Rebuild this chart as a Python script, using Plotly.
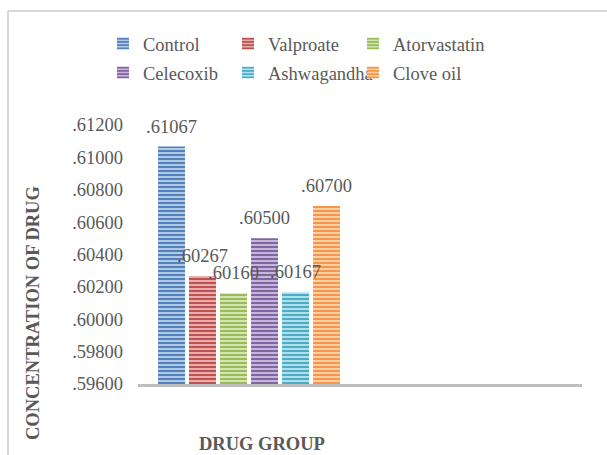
import plotly.graph_objects as go

# Drug groups and measured concentrations
drugs = ["Control", "Valproate", "Atorvastatin", "Celecoxib", "Ashwagandha", "Clove oil"]
concentrations = [0.61067, 0.60267, 0.60160, 0.60500, 0.60167, 0.60700]

# Y axis ticks
y_ticks = [0.596, 0.598, 0.600, 0.602, 0.604, 0.606, 0.608, 0.610, 0.612]

base_colors = ["#4f81bd", "#c0504d", "#9bbb59", "#8064a2", "#4bacc6", "#f79646"]
light_colors = ["#b3c8e4", "#e3aeac", "#d2e3b4", "#c5b7d9", "#b2dfea", "#fbcfa8"]

FONT = "Liberation Serif, Times New Roman, serif"
GREY = "#595959"
FS = 18.5

W, H = 607, 455
L, R, T, B = 138, 25, 125, 71
plot_w = W - L - R
plot_h = H - T - B

def px_x(px):
    return (px - L) / plot_w

def px_y(py):
    return (H - B - py) / plot_h

def dot_fmt(v):
    return f"{v:.5f}".lstrip("0")

BARGAP = 0.162
GROUPGAP = 0.13

fig = go.Figure()
for i, (name, val) in enumerate(zip(drugs, concentrations)):
    last_in_row = (i % 3 == 2)
    fig.add_trace(go.Bar(
        x=[0], y=[val], name=name,
        marker=dict(
            color=base_colors[i],
            line=dict(width=0),
            pattern=dict(shape="-", size=4, solidity=0.5,
                         bgcolor=light_colors[i], fillmode="replace"),
        ),
        legend="legend" if i < 3 else "legend2",
        legendwidth=120 if last_in_row else 80,
        hoverinfo="skip",
    ))

# Value labels above each bar, centred on the bar's slot in the group
n = len(drugs)
slot = (1 - BARGAP) / n
for i, val in enumerate(concentrations):
    cx = -(1 - BARGAP) / 2 + slot * (i + 0.5)
    fig.add_annotation(x=cx, y=val, xref="x", yref="y", text=dot_fmt(val),
                       showarrow=False, xanchor="center", yanchor="bottom",
                       yshift=8, font=dict(family=FONT, size=FS, color=GREY))

# Axis titles
fig.add_annotation(x=px_x(33), y=px_y(313), xref="paper", yref="paper",
                   text="<b>CONCENTRATION OF DRUG</b>", textangle=-90,
                   xanchor="center", yanchor="middle",
                   showarrow=False, font=dict(family=FONT, size=FS, color=GREY))
fig.add_annotation(x=px_x(262), y=px_y(444), xref="paper", yref="paper",
                   text="<b>DRUG GROUP</b>", xanchor="center", yanchor="middle",
                   showarrow=False, font=dict(family=FONT, size=FS, color=GREY))

# Chart border (top and left edges)
border = dict(color="#d9d9d9", width=2)
fig.add_shape(type="line", xref="paper", yref="paper",
              x0=px_x(8), x1=px_x(W + 20), y0=px_y(11), y1=px_y(11), line=border)
fig.add_shape(type="line", xref="paper", yref="paper",
              x0=px_x(8), x1=px_x(8), y0=px_y(11), y1=px_y(H + 20), line=border)

legend_common = dict(orientation="h", xanchor="left", yanchor="middle",
                     entrywidthmode="pixels",
                     font=dict(family=FONT, size=FS, color=GREY),
                     bgcolor="rgba(0,0,0,0)", itemclick=False)

fig.update_layout(
    width=W, height=H,
    margin=dict(l=L, r=R, t=T, b=B, pad=0),
    paper_bgcolor="white", plot_bgcolor="white",
    barmode="group", bargap=BARGAP, bargroupgap=GROUPGAP,
    font=dict(family=FONT, size=FS, color=GREY),
    legend=dict(x=px_x(103), y=px_y(44), **legend_common),
    legend2=dict(x=px_x(103), y=px_y(73), **legend_common),
    xaxis=dict(range=[-0.5, 1.5], showticklabels=False, showgrid=False,
               zeroline=False, showline=True, linecolor="#bfbfbf", linewidth=3,
               ticks=""),
    yaxis=dict(range=[y_ticks[0], y_ticks[-1]], tickvals=y_ticks,
               ticktext=[dot_fmt(v) for v in y_ticks], showgrid=False,
               zeroline=False, showline=False, ticks="", ticklabelstandoff=14,
               tickfont=dict(family=FONT, size=FS, color=GREY)),
)

fig.write_html("out.html")
